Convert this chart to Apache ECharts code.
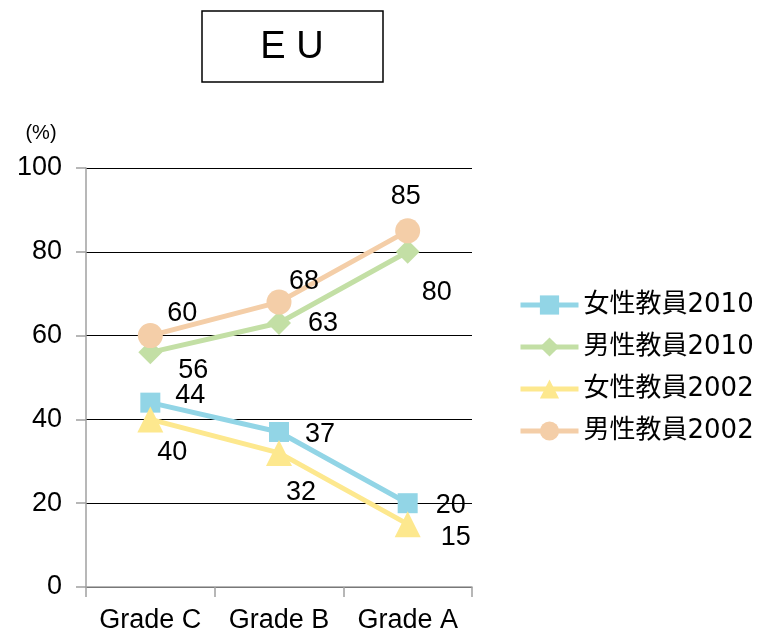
<!DOCTYPE html>
<html>
<head>
<meta charset="utf-8">
<script src="https://cdn.jsdelivr.net/npm/echarts@6/dist/echarts.min.js"></script>
<style>
  html, body { margin: 0; padding: 0; background: #fff; }
  #chart { width: 775px; height: 634px; }
</style>
</head>
<body>
<div id="chart"></div>
<script>
// data
const categories = ['Grade C', 'Grade B', 'Grade A'];
const seriesNames = ['女性教員2010', '男性教員2010', '女性教員2002', '男性教員2002'];
const female2010 = [44, 37, 20];
const male2010 = [56, 63, 80];
const female2002 = [40, 32, 15];
const male2002 = [60, 68, 85];
const yTicks = [0, 20, 40, 60, 80, 100];

// styles
const colors = ['#92d5e6', '#c3dfa5', '#fde88e', '#f4cea8'];
const symbols = ['rect', 'diamond', 'triangle', 'circle'];
const symbolSizes = [20, 24, 26, 25];
// label offsets from each point (px)
const labelOffsets = [
  [[40, -7], [41, 3], [43, 2]],
  [[43, 18], [44, 1], [29, 41]],
  [[22, 33], [22, 40], [48, 13]],
  [[32, -22], [25, -21], [-2, -34]]
];

const numFont = 'Liberation Sans, Arial, sans-serif';
const legendFont = '"DejaVu Sans", "Noto Sans CJK JP", sans-serif';

const chart = echarts.init(document.getElementById('chart'));

const allValues = [female2010, male2010, female2002, male2002];
const series = allValues.map((vals, i) => ({
  name: seriesNames[i],
  type: 'line',
  data: vals.map((v, j) => ({
    value: v,
    label: { offset: labelOffsets[i][j] }
  })),
  symbol: symbols[i],
  symbolSize: symbolSizes[i],
  itemStyle: { color: colors[i] },
  lineStyle: { color: colors[i], width: 5 },
  z: 3 + i,
  label: {
    show: true,
    position: 'inside',
    color: '#000',
    fontSize: 27,
    fontFamily: numFont
  },
  emphasis: { disabled: true },
  animation: false
}));

const option = {
  animation: false,
  grid: { left: 86, right: 303, top: 168, bottom: 47, containLabel: false },
  graphic: [
    {
      type: 'rect',
      shape: { x: 202, y: 11, width: 181, height: 71 },
      style: { fill: '#fff', stroke: '#000', lineWidth: 1.5 }
    },
    {
      type: 'text',
      x: 292, y: 48,
      style: {
        text: 'E U', fontSize: 38, fontFamily: numFont,
        fill: '#000', align: 'center', verticalAlign: 'middle'
      }
    },
    {
      type: 'text',
      x: 41, y: 133,
      style: {
        text: '(%)', fontSize: 20, fontFamily: numFont,
        fill: '#000', align: 'center', verticalAlign: 'middle'
      }
    }
  ],
  legend: {
    orient: 'vertical',
    left: 513,
    top: 287,
    itemWidth: 58,
    itemHeight: 24,
    itemGap: 16,
    lineStyle: { width: 5 },
    textStyle: { fontSize: 26, fontFamily: legendFont, color: '#000' },
    data: seriesNames
  },
  xAxis: {
    type: 'category',
    data: categories,
    boundaryGap: true,
    axisLine: { lineStyle: { color: '#a0a0a0', width: 1.5 } },
    axisTick: { show: true, length: 10, lineStyle: { color: '#a0a0a0', width: 1.5 } },
    axisLabel: {
      interval: 0, hideOverlap: false,
      fontSize: 27, fontFamily: numFont, color: '#000', margin: 20
    }
  },
  yAxis: {
    type: 'value',
    min: yTicks[0],
    max: yTicks[yTicks.length - 1],
    interval: 20,
    axisLine: { show: true, lineStyle: { color: '#a0a0a0', width: 1.5 } },
    axisTick: { show: true, length: 10, lineStyle: { color: '#a0a0a0', width: 1.5 } },
    splitLine: { show: true, lineStyle: { color: '#000', width: 1.2 } },
    axisLabel: { fontSize: 27, fontFamily: numFont, color: '#000', margin: 24 }
  },
  series: series
};

chart.setOption(option);
</script>
</body>
</html>
